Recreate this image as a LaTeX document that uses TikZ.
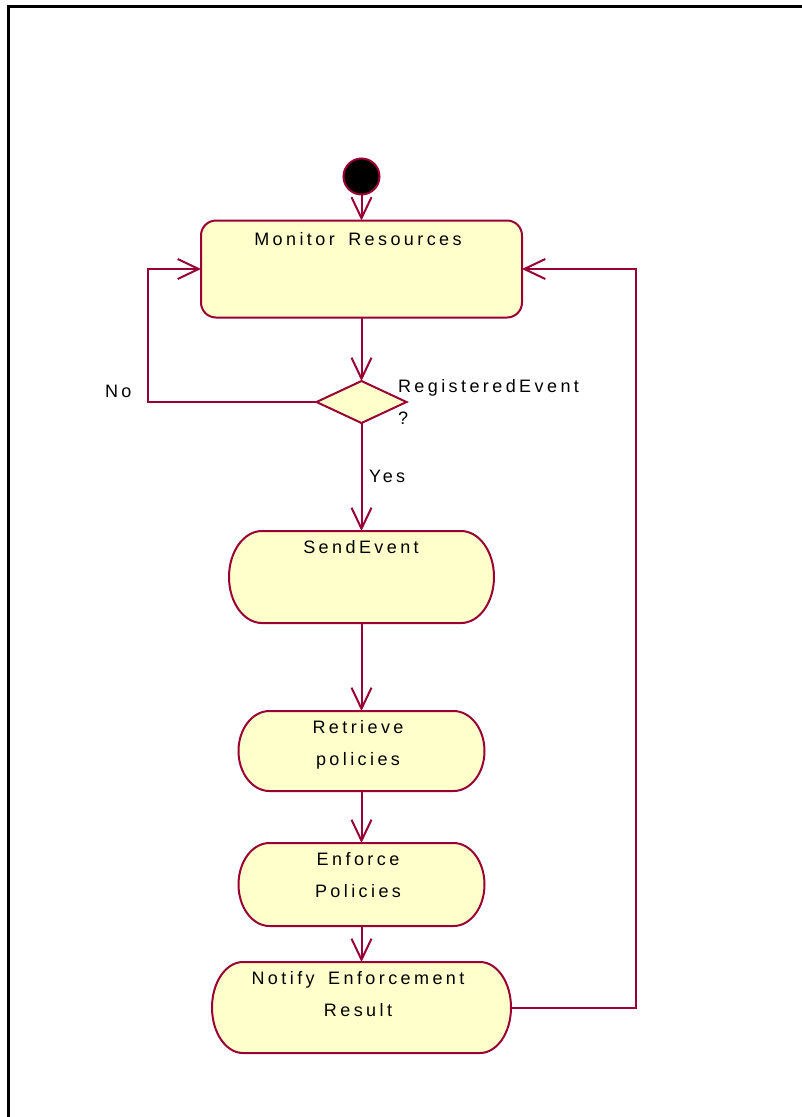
\documentclass[tikz,border=0pt]{standalone}
\usepackage{fontspec}
\usetikzlibrary{arrows.meta,shapes.geometric,calc}
\newfontfamily\lblfont{Liberation Sans}[LetterSpace=19,WordSpace=1.6]
\definecolor{umlline}{HTML}{990033}
\definecolor{umlfill}{HTML}{FFFFCC}
\tikzset{
  box/.style={draw=none,inner sep=0pt,outer sep=0pt,rectangle},
  actline/.style={draw=umlline,fill=umlfill,line width=2pt},
  lbl/.style={font=\lblfont\fontsize{18}{32}\selectfont,inner sep=0pt,outer sep=0pt,text=black},
  flow/.style={draw=umlline,line width=2pt,-{Straight Barb[length=21pt,width=20pt,line width=2pt]}},
}
% outline of an action state: flat top and bottom, half-elliptic ends
\newcommand\actoutline[2]{%
  \draw[actline] let \p1=(#1.north), \p2=(#1.south), \n1={abs(\y1-\y2)/2} in
    ($(#1.north east)+(-#2,0)$) arc[start angle=90,end angle=-90,x radius=#2,y radius=\n1]
    -- ($(#1.south west)+(#2,0)$) arc[start angle=270,end angle=90,x radius=#2,y radius=\n1]
    -- cycle;}
\begin{document}
\begin{tikzpicture}[x=1pt,y=-1pt]
\useasboundingbox (0,0) rectangle (802,1117);
% frame
\draw[line width=3pt,line cap=rect] (8.5,1117) -- (8.5,6.5) -- (802,6.5);

% start state
\node[circle,fill=black,draw=umlline,line width=2pt,minimum size=36pt,inner sep=0pt,outer sep=0pt] (start) at (361.5,176.5) {};

% Monitor Resources
\node[rectangle,rounded corners=15pt,actline,minimum width=321pt,minimum height=97pt,outer sep=0pt,inner sep=0pt] (mon) at (361.5,269) {};
\node[lbl,anchor=base] (monT) at (358,245.5) {Monitor Resources};

% decision
\node[diamond,actline,minimum width=90pt,minimum height=42pt,inner sep=0pt,outer sep=0pt] (dec) at (361.5,402) {};
\node[lbl,anchor=base west,align=left] (decT) at (398,424) {RegisteredEvent\\?};

% action states
\node[box,minimum width=265pt,minimum height=92pt] (send) at (361.5,577) {};
\node[box,minimum width=246pt,minimum height=80pt] (retr) at (361.5,751) {};
\node[box,minimum width=246pt,minimum height=83pt] (enf) at (361.5,884.5) {};
\node[box,minimum width=299pt,minimum height=91pt] (noti) at (361.5,1007.5) {};
\actoutline{send}{33pt}
\actoutline{retr}{31pt}
\actoutline{enf}{31pt}
\actoutline{noti}{31pt}

\node[lbl,anchor=base] (sendT) at (361,553.7) {SendEvent};
\node[lbl,anchor=base,align=center] (retrT) at (358,765.7) {Retrieve\\policies};
\node[lbl,anchor=base,align=center] (enfT) at (358,897.7) {Enforce\\Policies};
\node[lbl,anchor=base,align=center] (notiT) at (358,1016) {Notify Enforcement\\Result};

% transitions
\draw[flow] (start.south) -- (mon.north);
\draw[flow] (mon.south) -- (dec.north);
\coordinate (noBend) at (148,402);
\draw[flow] (dec.west) -- (noBend) |- (mon.west);
\node[lbl,anchor=base west] (noT) at (105,397) {No};
\draw[flow] (dec.south) -- (send.north);
\node[lbl,anchor=base west] (yesT) at (369,482) {Yes};
\draw[flow] (send.south) -- (retr.north);
\draw[flow] (retr.south) -- (enf.north);
\draw[flow] (enf.south) -- (noti.north);
\coordinate (backBend) at (636,1007.5);
\draw[flow] (noti.east) -- (backBend) |- (mon.east);
\end{tikzpicture}
\end{document}
